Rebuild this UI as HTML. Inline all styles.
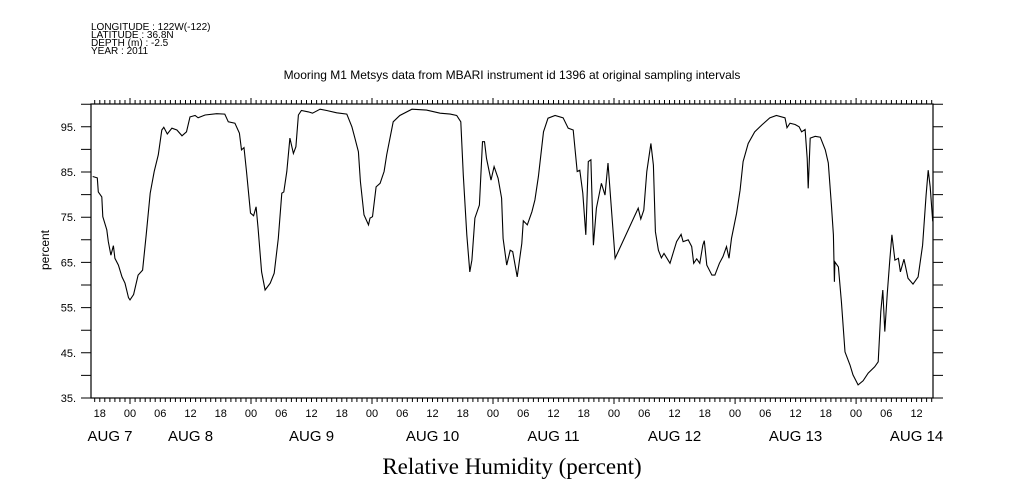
<!DOCTYPE html>
<html><head><meta charset="utf-8"><style>
html,body{margin:0;padding:0;background:#fff;}
svg{display:block;font-family:"Liberation Sans",sans-serif;}
</style></head><body>
<svg id="chart" width="1009" height="504" viewBox="0 0 1009 504" xmlns="http://www.w3.org/2000/svg">
<g font-size="10" fill="#000">
<text x="91" y="30">LONGITUDE : 122W(-122)</text>
<text x="91" y="38">LATITUDE : 36.8N</text>
<text x="91" y="46">DEPTH (m) : -2.5</text>
<text x="91" y="54">YEAR : 2011</text>
</g>
<text x="512" y="79" font-size="12" text-anchor="middle">Mooring M1 Metsys data from MBARI instrument id 1396 at original sampling intervals</text>
<text transform="translate(49,250) rotate(-90)" font-size="12" text-anchor="middle">percent</text>
<text x="512" y="474" font-family="Liberation Serif, serif" font-size="23" text-anchor="middle">Relative Humidity (percent)</text>
<g id="axes"></g>
<g id="series"></g>
</svg>
<script>
// hours since Aug 8 00:00
const hours = [-7.4,-6.5,-6.3,-5.6,-5.4,-4.6,-4.3,-3.8,-3.3,-3.0,-2.3,-1.6,-1.0,-0.3,0,0.7,1.6,2.5,3.2,4.0,4.8,5.6,6.3,6.7,7.4,8.3,9.3,10.3,11.2,11.9,12.9,13.5,14.9,17.2,18.8,19.5,20.8,21.7,22.1,22.6,23.1,23.9,24.5,25.0,25.4,26.1,26.8,27.8,28.6,29.4,30.1,30.5,31.1,31.7,32.4,32.9,33.4,34.0,35.4,36.2,37.7,39.0,41.0,43.0,44.0,44.6,45.3,45.7,46.4,47.3,47.6,48.1,48.8,49.6,50.4,50.9,52.2,53.5,55.9,58.8,61.5,63.5,64.8,65.6,66.1,66.8,67.4,67.8,68.4,69.3,69.9,70.3,70.7,71.6,72.2,73.0,73.7,74.0,74.7,75.4,75.9,76.8,77.7,78.0,78.8,79.7,80.3,81.0,82.0,82.9,84.3,85.9,86.9,87.9,88.7,89.2,89.8,90.4,90.9,91.4,91.9,92.5,93.5,94.2,94.8,96.2,100.8,101.3,101.9,102.5,103.3,103.8,104.2,104.8,105.4,105.9,107.1,107.7,108.4,109.3,109.7,110.7,111.4,111.8,112.4,113.0,113.6,113.9,114.4,115.4,116.0,116.9,117.6,118.3,118.8,119.3,120.3,121.0,121.6,122.6,123.9,125.3,126.9,128.2,129.9,130.3,130.9,131.9,132.7,133.2,133.9,134.3,134.5,134.9,135.9,136.9,137.9,138.5,139.1,139.5,139.7,139.8,140.5,141.1,141.8,142.8,143.4,144.4,145.4,146.4,147.7,148.4,148.9,149.3,149.7,150.2,150.7,151.1,151.7,152.4,152.8,153.5,154.3,155.3,156.3,157.2,157.9,158.3,158.7,159.2];
const humidity = [84.0,83.7,80.6,79.5,75.1,72.2,69.6,66.6,68.7,65.9,64.4,61.8,60.4,57.2,56.7,57.9,62.2,63.3,71.1,80.3,85.1,88.8,94.3,94.9,93.4,94.7,94.3,93.0,93.9,97.2,97.5,97.0,97.6,97.9,97.8,96.1,95.8,93.6,89.9,90.4,85.1,75.9,75.3,77.3,72.5,62.9,58.9,60.4,62.6,70.3,80.3,80.6,85.1,92.5,89.1,90.6,97.6,98.6,98.3,98.0,98.9,98.6,98.1,97.8,95.0,92.5,89.5,82.9,75.5,73.3,74.8,75.1,81.7,82.5,85.1,88.8,96.1,97.5,98.9,98.7,98.0,97.8,97.5,96.1,84.3,71.1,62.9,65.5,74.8,77.7,91.7,91.7,88.0,83.2,86.2,83.6,79.2,70.3,64.4,67.7,67.4,61.8,69.2,74.2,73.3,76.2,78.8,84.0,93.9,96.9,97.5,97.0,94.7,94.3,85.1,85.4,80.3,71.1,87.3,87.7,68.8,77.0,82.5,79.9,87.0,65.9,77.0,74.6,76.6,85.1,91.3,86.5,71.8,67.7,66.0,67.0,64.8,67.0,69.6,71.2,69.6,70.0,68.5,64.8,65.8,64.8,68.8,69.8,64.4,62.2,62.2,64.8,66.3,68.5,65.9,70.3,75.9,81.0,87.3,91.3,93.9,95.4,97.0,97.5,97.0,94.8,95.8,95.5,95.0,93.9,94.4,88.0,81.4,92.5,92.9,92.7,89.9,87.0,77.7,71.1,60.7,65.1,64.0,56.3,45.2,42.3,40.1,37.9,38.8,40.5,41.9,43.0,54.1,58.9,49.7,58.2,65.5,71.1,65.5,65.9,62.9,65.7,61.5,60.2,61.8,68.8,79.9,85.4,81.7,74.1];
const yTickLabels = ["35.","45.","55.","65.","75.","85.","95."];
const yTickValues = [35,45,55,65,75,85,95];
const hourLabels = ["18","00","06","12"];
const dayLabels = ["AUG  7","AUG  8","AUG  9","AUG 10","AUG 11","AUG 12","AUG 13","AUG 14"];

const L=91,R=933,T=104,B=398;
const hMin=-7.74, hMax=159.26;
function xs(h){return L+(h-hMin)*(R-L)/(hMax-hMin);}
function ys(v){return B-(v-35)*4.52;}
const NS="http://www.w3.org/2000/svg";
function mk(tag,attrs,parent){const e=document.createElementNS(NS,tag);for(const k in attrs)e.setAttribute(k,attrs[k]);parent.appendChild(e);return e;}
const axes=document.getElementById('axes');
const frame=mk('rect',{x:L,y:T,width:R-L,height:B-T,fill:'none',stroke:'#000','stroke-width':1.2},axes);


let d='';
for(let h=Math.ceil(hMin);h<=hMax;h++){
  const x=xs(h).toFixed(1); const len=(h%24===0)?6:4;
  d+=`M${x} ${B}v${len}M${x} ${T}v-${len}`;
}
for(let v=35;v<=100;v+=5){
  const y=ys(v).toFixed(1);
  d+=`M${L} ${y}h-10M${R} ${y}h10`;
}
const tk=mk('path',{d:d,stroke:'#000','stroke-width':1,fill:'none'},axes);


yTickValues.forEach((v,i)=>{
  const t=mk('text',{x:76,y:ys(v)+4,'font-size':11,'text-anchor':'end'},axes);
  t.textContent=yTickLabels[i];
  
  
});
for(let h=-6;h<=hMax;h+=6){
  const idx=((h%24)+24)%24/6;
  const lab=hourLabels[(idx+1)%4];
  const t=mk('text',{x:xs(h),y:417,'font-size':11,'text-anchor':'middle'},axes);
  t.textContent=lab;
  
  
}
dayLabels.forEach((lab,i)=>{
  const x = i===0 ? 110 : xs((i-1)*24+12);
  const t=mk('text',{x:x,y:441,'font-size':15,'text-anchor':'middle'},axes);
  t.textContent=lab;
  
  
});
const pts=hours.map((h,i)=>xs(h).toFixed(1)+','+ys(humidity[i]).toFixed(1)).join(' ');
const line=mk('polyline',{points:pts,fill:'none',stroke:'#000','stroke-width':1.1},document.getElementById('series'));


</script>
</body></html>
